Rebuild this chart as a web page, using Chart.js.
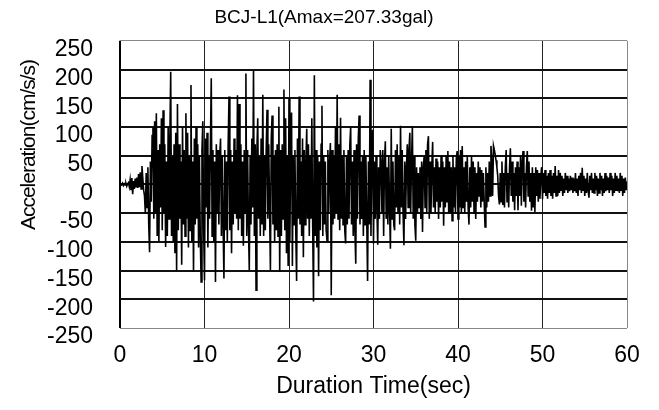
<!DOCTYPE html>
<html>
<head>
<meta charset="utf-8">
<script src="https://cdn.jsdelivr.net/npm/chart.js@4.4.1/dist/chart.umd.min.js"></script>
<style>
html,body{margin:0;padding:0;background:#fff;}
canvas{display:block;}
</style>
</head>
<body>
<canvas id="c" width="659" height="410"></canvas>
<script>
// ---- data (cm/s/s), sampled every 0.1 s, read from the record ----
const chartTitle = "BCJ-L1(Amax=207.33gal)";
const xAxisTitle = "Duration Time(sec)";
const yAxisTitle = "Acceleration(cm/s/s)";
const xTickLabels = ["0","10","20","30","40","50","60"];
const yTickLabels = ["-250","-200","-150","-100","-50","0","50","100","150","200","250"];
const sampleStep = 0.1;

const acc00to10 = [
0,1,-1,2,-2,1,-1,2,-3,1,
3,-4,8,-10,11,-17,6,-8,10,-4,
12,-6,18,-5,21,-8,32,10,-10,-20,
-51,20,-40,30,-70,-118,40,-30,85,100,
-60,110,-50,124,-90,60,-100,70,-40,115,
-80,129,-50,70,-109,40,-90,100,-60,80,
196,-90,50,-100,70,-120,90,-150,140,-80,
70,-60,40,-140,100,-70,60,-90,124,-60,
90,-110,50,-80,173,-100,40,-152,80,-70,
100,-60,70,-110,50,-90,-170,60,110,-80];
const acc10to20 = [
-167,80,-40,90,-110,50,-60,70,185,-90,
60,-100,40,-170,70,-50,60,-70,50,80,
-90,50,-70,-164,60,-80,40,-100,70,153,
-80,60,-120,40,-70,80,-50,60,-60,155,
-80,140,-60,70,-90,40,-107,60,-50,193,
-90,60,-70,-150,50,-70,80,-40,199,-90,
70,-184,60,115,-60,50,-90,80,-70,156,
-90,50,-80,60,130,-60,70,-40,-150,80,
120,-70,50,-100,60,-80,70,-90,135,-152,
60,-90,70,-60,165,-80,115,-120,50,-142];
const acc20to30 = [
150,-100,60,125,-142,50,-70,60,-80,-168,
80,-60,153,-70,40,-90,80,-127,60,-70,
40,97,-60,70,-90,50,-60,115,-70,-204,
190,-90,60,-110,50,-160,40,-80,70,137,
-90,50,-70,40,-80,-98,60,-50,40,72,
-193,60,-70,50,-60,100,-50,156,-60,70,
-80,116,-60,50,-70,60,-80,-103,50,-70,
60,-60,70,100,-70,40,-90,60,-80,-138,
70,-60,80,120,-70,40,-60,50,-90,60,
-70,50,-60,-168,40,-70,182,-90,50,95];
const acc30to40 = [
-103,40,-60,50,-40,-105,30,-60,60,40,
-50,60,-90,40,75,-60,30,-70,50,-40,
-112,97,-60,40,-70,-80,60,-40,70,-50,
50,-70,102,-40,60,-50,-106,40,-60,30,
70,-40,60,90,-50,40,101,-60,50,-70,
-98,30,-50,20,-40,30,-60,40,-83,30,
50,-40,60,-50,70,84,-60,40,-50,30,
74,-40,30,-50,45,-30,40,-60,30,-40,
50,-30,40,-72,30,-40,50,-30,58,-50,
40,-50,30,-63,50,-40,30,-50,45,58];
const acc40to50 = [
-60,50,-40,60,-50,67,-40,30,-50,40,
-30,50,-40,-70,30,-40,50,-30,40,-50,
30,-60,20,-30,40,-20,30,-40,25,-30,
20,-30,-74,30,-40,20,-30,40,-20,67,
40,-20,67,60,52,42,30,15,-20,-35,
20,-30,40,-36,20,-40,30,60,-30,20,
-40,30,63,-20,40,-30,20,-45,30,-20,
40,-45,30,-20,49,-37,40,58,-30,20,
-40,30,58,-20,40,-30,20,-46,30,-40,
20,-48,30,-20,25,-30,20,-25,15,30];
const acc50to60 = [
-26,20,-15,25,-20,15,-25,20,-15,25,
-20,15,-25,20,-15,32,-20,15,-20,25,
-15,20,-10,15,-20,10,-15,20,-10,15,
-15,10,-12,15,-10,12,-15,10,-12,20,
-15,10,-20,15,-10,20,-15,29,-10,15,
-20,10,-15,20,-10,-23,15,-10,20,-15,
10,-15,20,-10,15,-20,10,-15,20,-10,
15,-20,10,-15,20,-12,15,-10,12,-15,
20,-10,15,-20,10,-15,20,-10,15,-12,
10,-15,20,-10,15,-20,10,-15,12,-10,
5];

// ---- build points ----
const accel = [].concat(acc00to10, acc10to20, acc20to30, acc30to40, acc40to50, acc50to60);
const points = accel.map((a, i) => ({ x: Math.round(i * sampleStep * 10) / 10, y: a }));

const FONT = "'Liberation Sans', Arial, sans-serif";

const textPlugin = {
  id: 'texts',
  afterDraw(chart) {
    const ctx = chart.ctx;
    const area = chart.chartArea;
    ctx.save();
    ctx.fillStyle = '#000';
    ctx.textAlign = 'center';
    ctx.textBaseline = 'middle';
    // main title
    ctx.font = "19px " + FONT;
    ctx.fillText(chartTitle, 324, 18);
    // x title
    ctx.font = "23px " + FONT;
    ctx.fillText(xAxisTitle, (area.left + area.right) / 2, 387);
    // y title
    ctx.translate(29.5, 145);
    ctx.rotate(-Math.PI / 2);
    ctx.font = "21px " + FONT;
    if ('letterSpacing' in ctx) ctx.letterSpacing = '-1px';
    ctx.fillText(yAxisTitle, 0, 0);
    ctx.restore();
  }
};

new Chart(document.getElementById('c'), {
  type: 'line',
  data: {
    datasets: [{
      data: points,
      borderColor: '#000',
      borderWidth: 1.6,
      pointRadius: 0,
      tension: 0,
      fill: false
    }]
  },
  options: {
    responsive: false,
    animation: false,
    parsing: false,
    normalized: true,
    layout: { padding: { top: 39, right: 32, bottom: 0, left: 0 } },
    plugins: { legend: { display: false }, tooltip: { enabled: false }, title: { display: false } },
    scales: {
      x: {
        type: 'linear', min: 0, max: 60,
        afterFit: s => { s.height = 82; },
        border: { display: false },
        grid: {
          drawTicks: false,
          color: c => c.tick && c.tick.value === 0 ? '#000' : (c.tick && c.tick.value === 60 ? '#888' : '#222'),
          lineWidth: c => c.tick && c.tick.value === 0 ? 2 : 1
        },
        ticks: {
          stepSize: 10, maxRotation: 0, autoSkip: false, padding: 14, color: '#000',
          font: { family: FONT, size: 23 },
          callback: (v, i) => xTickLabels[i]
        }
      },
      y: {
        min: -250, max: 250,
        afterFit: s => { s.width = 120; },
        border: { display: false },
        grid: {
          drawTicks: false,
          color: c => c.tick && Math.abs(c.tick.value) === 250 ? '#888' : '#111',
          lineWidth: c => c.tick && Math.abs(c.tick.value) === 250 ? 1 : 2
        },
        ticks: {
          stepSize: 50, autoSkip: false, padding: 27, labelOffset: 9, color: '#000',
          font: { family: FONT, size: 23 },
          callback: (v, i) => yTickLabels[i]
        }
      }
    }
  },
  plugins: [textPlugin]
});
</script>
</body>
</html>
